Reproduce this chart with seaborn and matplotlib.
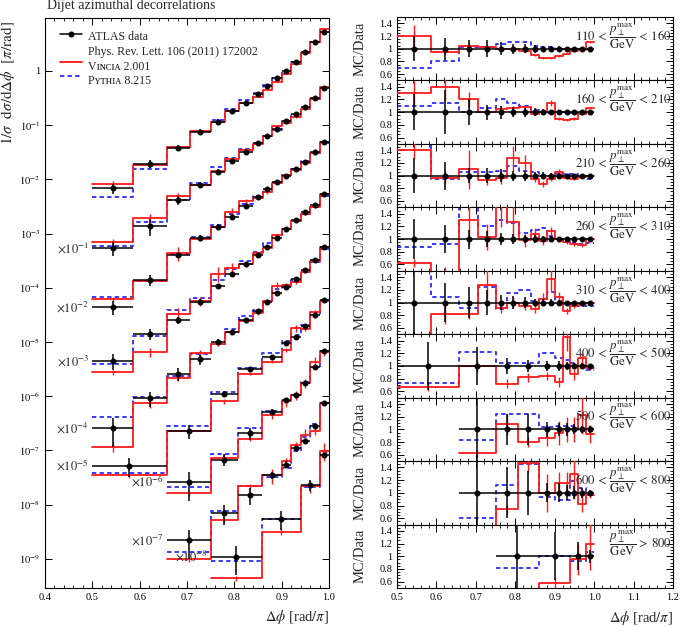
import numpy as np
import pandas as pd
import matplotlib
matplotlib.use("Agg")
import matplotlib.pyplot as plt
import seaborn as sns
from matplotlib.ticker import MultipleLocator, FixedLocator, FuncFormatter, LogLocator, NullFormatter

# ---------------- data ----------------
title = "Dijet azimuthal decorrelations"
pt_labels = [
    r"$110\,<\,\dfrac{p_\perp^{\mathrm{max}}}{\mathrm{GeV}}\,<\,160$",
    r"$160\,<\,\dfrac{p_\perp^{\mathrm{max}}}{\mathrm{GeV}}\,<\,210$",
    r"$210\,<\,\dfrac{p_\perp^{\mathrm{max}}}{\mathrm{GeV}}\,<\,260$",
    r"$260\,<\,\dfrac{p_\perp^{\mathrm{max}}}{\mathrm{GeV}}\,<\,310$",
    r"$310\,<\,\dfrac{p_\perp^{\mathrm{max}}}{\mathrm{GeV}}\,<\,400$",
    r"$400\,<\,\dfrac{p_\perp^{\mathrm{max}}}{\mathrm{GeV}}\,<\,500$",
    r"$500\,<\,\dfrac{p_\perp^{\mathrm{max}}}{\mathrm{GeV}}\,<\,600$",
    r"$600\,<\,\dfrac{p_\perp^{\mathrm{max}}}{\mathrm{GeV}}\,<\,800$",
    r"$\dfrac{p_\perp^{\mathrm{max}}}{\mathrm{GeV}}\,>\,800$",
]
scale_exps = [0, -1, -2, -3, -4, -5, -6, -7, -8]

edges_fine = [0.5, 0.586, 0.657, 0.706, 0.75, 0.78, 0.81, 0.84, 0.86, 0.88, 0.90, 0.92, 0.94, 0.96, 0.98, 1.0]
edges_mid = [0.5, 0.657, 0.75, 0.808, 0.859, 0.90, 0.92, 0.94, 0.96, 0.98, 1.0]
edges_high = [0.657, 0.75, 0.808, 0.859, 0.90, 0.92, 0.94, 0.96, 0.98, 1.0]
edges_top = [0.75, 0.859, 0.94, 0.98, 1.0]

# ATLAS data (unscaled 1/sigma dsigma/dDphi)
data_110 = [0.00685, 0.0192, 0.0385, 0.076, 0.116, 0.18, 0.26, 0.37, 0.53, 0.73, 1.0, 1.48, 2.27, 3.47, 5.3]
data_160 = [0.0054, 0.014, 0.0417, 0.079, 0.139, 0.219, 0.324, 0.463, 0.64, 0.838, 1.2, 1.6, 2.2, 3.2, 4.8]
data_210 = [0.0044, 0.0139, 0.040, 0.084, 0.134, 0.20, 0.33, 0.48, 0.66, 0.91, 1.16, 1.55, 2.12, 3.16, 5.0]
data_260 = [0.0045, 0.014, 0.0256, 0.055, 0.108, 0.18, 0.28, 0.40, 0.57, 0.82, 1.2, 1.78, 2.5, 3.4, 5.3]
data_310 = [0.0026, 0.0091, 0.026, 0.048, 0.102, 0.15, 0.257, 0.38, 0.55, 0.80, 1.05, 1.45, 2.1, 3.2, 5.6]
data_400 = [0.0052, 0.023, 0.112, 0.32, 0.52, 0.95, 1.23, 2.0, 3.2, 6.0]
data_500 = [0.026, 0.068, 0.207, 0.52, 0.85, 1.05, 1.74, 3.5, 6.9]
data_600 = [0.022, 0.069, 0.15, 0.35, 0.55, 1.1, 1.5, 2.8, 7.6]
data_800 = [0.11, 0.55, 2.3, 8.3]

# relative data uncertainties
derr_110 = [0.2, 0.17, 0.13, 0.13, 0.1, 0.08, 0.07, 0.06, 0.05, 0.04, 0.04, 0.03, 0.03, 0.02, 0.02]
derr_160 = [0.28, 0.35, 0.2, 0.12, 0.1, 0.08, 0.07, 0.06, 0.05, 0.04, 0.04, 0.03, 0.03, 0.02, 0.02]
derr_210 = [0.28, 0.22, 0.12, 0.12, 0.1, 0.08, 0.08, 0.06, 0.05, 0.04, 0.04, 0.03, 0.03, 0.02, 0.02]
derr_260 = [0.32, 0.22, 0.15, 0.12, 0.1, 0.08, 0.07, 0.06, 0.05, 0.05, 0.04, 0.03, 0.03, 0.02, 0.02]
derr_310 = [0.55, 0.3, 0.25, 0.2, 0.12, 0.1, 0.08, 0.06, 0.06, 0.05, 0.04, 0.03, 0.03, 0.02, 0.02]
derr_400 = [0.38, 0.3, 0.12, 0.1, 0.08, 0.08, 0.07, 0.05, 0.04, 0.03]
derr_500 = [0.55, 0.25, 0.25, 0.12, 0.1, 0.1, 0.08, 0.06, 0.05]
derr_600 = [0.55, 0.4, 0.35, 0.15, 0.15, 0.12, 0.1, 0.08, 0.05]
derr_800 = [0.55, 0.38, 0.22, 0.1]

# Vincia 2.001 / data ratios
vin_110 = [1.2, 0.95, 1.05, 1.03, 1.0, 1.0, 0.97, 0.9, 0.85, 0.85, 0.88, 0.92, 0.96, 0.98, 1.1]
vin_160 = [1.3, 1.4, 1.2, 1.0, 1.05, 1.07, 1.08, 0.97, 1.0, 1.15, 0.9, 0.88, 0.9, 0.97, 1.07]
vin_210 = [1.4, 0.97, 1.1, 0.93, 0.97, 1.27, 1.2, 0.95, 0.87, 0.95, 1.05, 0.97, 0.95, 0.98, 1.0]
vin_260 = [0.62, 0.47, 1.3, 1.03, 1.7, 1.27, 0.98, 1.08, 0.97, 1.13, 1.0, 0.95, 0.92, 0.9, 1.0]
vin_310 = [0.45, 0.82, 0.82, 1.28, 0.92, 1.0, 0.95, 0.9, 1.05, 1.37, 1.08, 0.87, 0.95, 0.97, 1.0]
vin_400 = [0.67, 1.0, 0.72, 0.82, 0.84, 0.75, 1.45, 0.87, 1.12, 0.97]
vin_500 = [0.62, 1.08, 0.8, 0.87, 0.95, 1.0, 1.0, 1.23, 0.93]
vin_600 = [0.45, 0.74, 1.47, 1.0, 1.15, 1.15, 1.3, 0.82, 0.97]
vin_800 = [0.4, 0.58, 0.95, 1.2]

# relative Vincia uncertainties
verr_110 = [0.15, 0.05, 0.04, 0.03, 0.03, 0.02, 0.02, 0.02, 0.02, 0.01, 0.01, 0.01, 0.01, 0.01, 0.01]
verr_160 = [0.15, 0.15, 0.1, 0.05, 0.04, 0.03, 0.03, 0.02, 0.03, 0.04, 0.02, 0.02, 0.02, 0.01, 0.01]
verr_210 = [0.1, 0.1, 0.28, 0.08, 0.1, 0.15, 0.1, 0.05, 0.05, 0.04, 0.05, 0.03, 0.02, 0.02, 0.02]
verr_260 = [0.1, 0.2, 0.3, 0.2, 0.3, 0.25, 0.1, 0.08, 0.06, 0.06, 0.04, 0.03, 0.03, 0.02, 0.02]
verr_310 = [0.2, 0.2, 0.1, 0.18, 0.1, 0.08, 0.08, 0.08, 0.1, 0.15, 0.08, 0.05, 0.04, 0.03, 0.03]
verr_400 = [0.1, 0.1, 0.1, 0.08, 0.08, 0.1, 0.15, 0.1, 0.08, 0.04]
verr_500 = [0.1, 0.15, 0.1, 0.15, 0.2, 0.2, 0.2, 0.25, 0.15]
verr_600 = [0.1, 0.1, 0.1, 0.3, 0.15, 0.15, 0.3, 0.15, 0.05]
verr_800 = [0.1, 0.15, 0.25, 0.35]

# Pythia 8.215 / data ratios
pyt_110 = [0.7, 0.8, 1.02, 1.02, 1.08, 1.1, 1.1, 1.05, 1.02, 1.02, 1.0, 1.0, 0.99, 1.0, 0.99]
pyt_160 = [1.1, 1.15, 1.0, 1.07, 1.2, 1.15, 1.1, 1.03, 1.0, 0.98, 1.0, 1.0, 0.98, 0.97, 0.98]
pyt_210 = [1.55, 0.95, 1.05, 1.05, 1.08, 1.15, 1.08, 1.05, 1.0, 1.0, 1.03, 1.02, 1.02, 0.98, 0.95]
pyt_260 = [0.88, 0.92, 1.5, 1.2, 1.3, 1.25, 1.1, 1.15, 1.18, 1.05, 1.0, 0.97, 0.93, 0.92, 0.93]
pyt_310 = [1.6, 1.08, 0.92, 1.25, 0.9, 1.15, 1.2, 1.02, 1.05, 1.17, 1.03, 0.97, 0.97, 0.95, 0.94]
pyt_400 = [0.73, 1.22, 1.05, 1.05, 1.2, 1.12, 1.1, 1.05, 1.0, 0.93]
pyt_500 = [0.83, 1.25, 1.25, 1.03, 1.05, 1.05, 1.05, 0.97, 0.97]
pyt_600 = [0.6, 1.12, 1.45, 0.93, 0.88, 0.88, 1.18, 1.08, 0.97]
pyt_800 = [0.82, 1.0, 0.92, 1.06]

series = [
    (edges_fine, data_110, derr_110, vin_110, verr_110, pyt_110),
    (edges_fine, data_160, derr_160, vin_160, verr_160, pyt_160),
    (edges_fine, data_210, derr_210, vin_210, verr_210, pyt_210),
    (edges_fine, data_260, derr_260, vin_260, verr_260, pyt_260),
    (edges_fine, data_310, derr_310, vin_310, verr_310, pyt_310),
    (edges_mid, data_400, derr_400, vin_400, verr_400, pyt_400),
    (edges_high, data_500, derr_500, vin_500, verr_500, pyt_500),
    (edges_high, data_600, derr_600, vin_600, verr_600, pyt_600),
    (edges_top, data_800, derr_800, vin_800, verr_800, pyt_800),
]

# ---------------- style ----------------
sns.set_theme(style="ticks")
plt.rcParams["font.family"] = ["Liberation Serif", "DejaVu Serif"]
plt.rcParams["mathtext.fontset"] = "stix"
plt.rcParams.update({
    "xtick.direction": "in", "ytick.direction": "in",
    "xtick.top": True, "ytick.right": True,
    "xtick.major.size": 5, "ytick.major.size": 5,
    "xtick.minor.size": 2.5, "ytick.minor.size": 2.5,
    "xtick.major.width": 0.7, "ytick.major.width": 0.7,
    "xtick.minor.width": 0.6, "ytick.minor.width": 0.6,
    "axes.linewidth": 0.8, "axes.edgecolor": "black",
    "xtick.color": "black", "ytick.color": "black",
    "xtick.labelsize": 7.5, "ytick.labelsize": 7.5,
})

RED = "#ff1a1a"
BLUE = "#2a2aff"
DASH = (0, (2.4, 1.8))


def step(ax, edges, vals, **kw):
    df = pd.DataFrame({"x": list(edges), "y": list(vals) + [vals[-1]]})
    sns.lineplot(data=df, x="x", y="y", drawstyle="steps-post", estimator=None,
                 sort=False, ax=ax, legend=False, **kw)


W, H = 685, 627
fig = plt.figure(figsize=(W / 100, H / 100), dpi=100)

axL = fig.add_axes([45 / W, 1 - 588 / H, 284 / W, 570 / H])
axL.set_yscale("log")

for (edges, dat, derr, vin, verr, pyt), ex in zip(series, scale_exps):
    e = np.array(edges)
    c = (e[:-1] + e[1:]) / 2
    hw = np.diff(e) / 2
    d = np.array(dat) * 10.0 ** ex
    v = d * np.array(vin)
    p = d * np.array(pyt)
    step(axL, e, p, color=BLUE, linewidth=1.3, linestyle=DASH, zorder=2)
    step(axL, e, v, color=RED, linewidth=1.3, zorder=3)
    axL.errorbar(c, v, yerr=v * np.array(verr), fmt="none", ecolor=RED, elinewidth=1.0, zorder=3)
    axL.errorbar(c, d, xerr=hw, yerr=d * np.array(derr), fmt="o", color="black",
                 ms=3.3, elinewidth=1.1, capsize=0, zorder=5)
    if ex != 0:
        axL.text(e[0] - 0.007, d[0], r"$\times10^{%d}$" % ex, ha="right", va="center",
                 fontsize=9, zorder=6)

axL.set_xlim(0.4, 1.0)
axL.set_ylim(2.9e-10, 9.5)
axL.xaxis.set_major_locator(MultipleLocator(0.1))
axL.xaxis.set_minor_locator(MultipleLocator(0.02))
axL.xaxis.set_major_formatter(FuncFormatter(lambda x, _: "%.1f" % x))
axL.yaxis.set_major_locator(FixedLocator([10.0 ** k for k in range(-9, 1)]))
axL.yaxis.set_minor_locator(LogLocator(base=10, subs=np.arange(2, 10)))
axL.yaxis.set_minor_formatter(NullFormatter())
axL.yaxis.set_major_formatter(FuncFormatter(
    lambda y, _: "1" if abs(np.log10(y)) < 1e-6 else r"$10^{%d}$" % int(round(np.log10(y)))))
axL.set_xlabel(r"$\Delta\phi$ [rad$/\pi$]", fontsize=10.5, loc="right")
axL.set_ylabel(r"$1/\sigma\ \ \mathrm{d}\sigma/\mathrm{d}\Delta\phi\ \ [\pi/\mathrm{rad}]$",
               fontsize=11, loc="top")
axL.yaxis.set_label_coords(-0.098, 0.995)
axL.xaxis.set_label_coords(1.0, -0.035)

# legend (drawn by hand)
tr = axL.transAxes
axL.plot([0.053, 0.13], [0.972, 0.972], color="black", lw=1.1, transform=tr)
axL.plot([0.0915], [0.972], "o", color="black", ms=3.3, transform=tr)
axL.plot([0.053, 0.13], [0.922, 0.922], color=RED, lw=1.3, transform=tr)
axL.plot([0.053, 0.13], [0.898, 0.898], color=BLUE, lw=1.3, linestyle=DASH, transform=tr)
axL.text(0.15, 0.966, "ATLAS data", transform=tr, fontsize=8.6, va="center")
axL.text(0.15, 0.940, "Phys. Rev. Lett. 106 (2011) 172002", transform=tr, fontsize=8.6, va="center")
axL.text(0.15, 0.914, "Vɪɴᴄɪᴀ 2.001", transform=tr, fontsize=8.6, va="center")
axL.text(0.15, 0.889, "Pʏᴛʜɪᴀ 8.215", transform=tr, fontsize=8.6, va="center")

fig.text(47 / W, 1 - 6 / H, title, fontsize=10, ha="left", va="center")

# ratio panels
top0, bot = 17, 588
ph = (bot - top0) / 9
for i, (edges, dat, derr, vin, verr, pyt) in enumerate(series):
    ax = fig.add_axes([397 / W, 1 - (top0 + (i + 1) * ph) / H, 276 / W, ph / H])
    e = np.array(edges)
    c = (e[:-1] + e[1:]) / 2
    hw = np.diff(e) / 2
    step(ax, e, pyt, color=BLUE, linewidth=1.3, linestyle=DASH, zorder=2)
    step(ax, e, vin, color=RED, linewidth=1.3, zorder=3)
    ax.errorbar(c, vin, yerr=np.array(vin) * np.array(verr), fmt="none", ecolor=RED,
                elinewidth=1.0, zorder=3)
    ax.errorbar(c, np.ones_like(c), xerr=hw, yerr=np.array(derr), fmt="o", color="black",
                ms=3.3, elinewidth=1.1, capsize=0, zorder=5)
    ax.set_xlim(0.5, 1.2)
    ax.set_ylim(0.5, 1.5)
    ax.xaxis.set_major_locator(MultipleLocator(0.1))
    ax.xaxis.set_minor_locator(MultipleLocator(0.02))
    ax.yaxis.set_major_locator(FixedLocator([0.6, 0.8, 1.0, 1.2, 1.4]))
    ax.yaxis.set_minor_locator(MultipleLocator(0.05))
    ax.yaxis.set_major_formatter(FuncFormatter(lambda y, _: "%g" % round(y, 2)))
    ax.set_ylabel("MC/Data", fontsize=10.5)
    ax.yaxis.set_label_coords(-0.11, 0.5)
    ax.text(0.995, 0.70, pt_labels[i], transform=ax.transAxes, ha="right", va="center",
            fontsize=9.2, zorder=7)
    if i < 8:
        ax.tick_params(axis="x", labelbottom=False)
        ax.set_xlabel("")
    else:
        ax.xaxis.set_major_formatter(FuncFormatter(lambda x, _: "%.1f" % x))
        ax.set_xlabel(r"$\Delta\phi$ [rad$/\pi$]", fontsize=10.5, loc="right")
        ax.xaxis.set_label_coords(1.0, -0.33)

fig.savefig("out.png", dpi=100)
